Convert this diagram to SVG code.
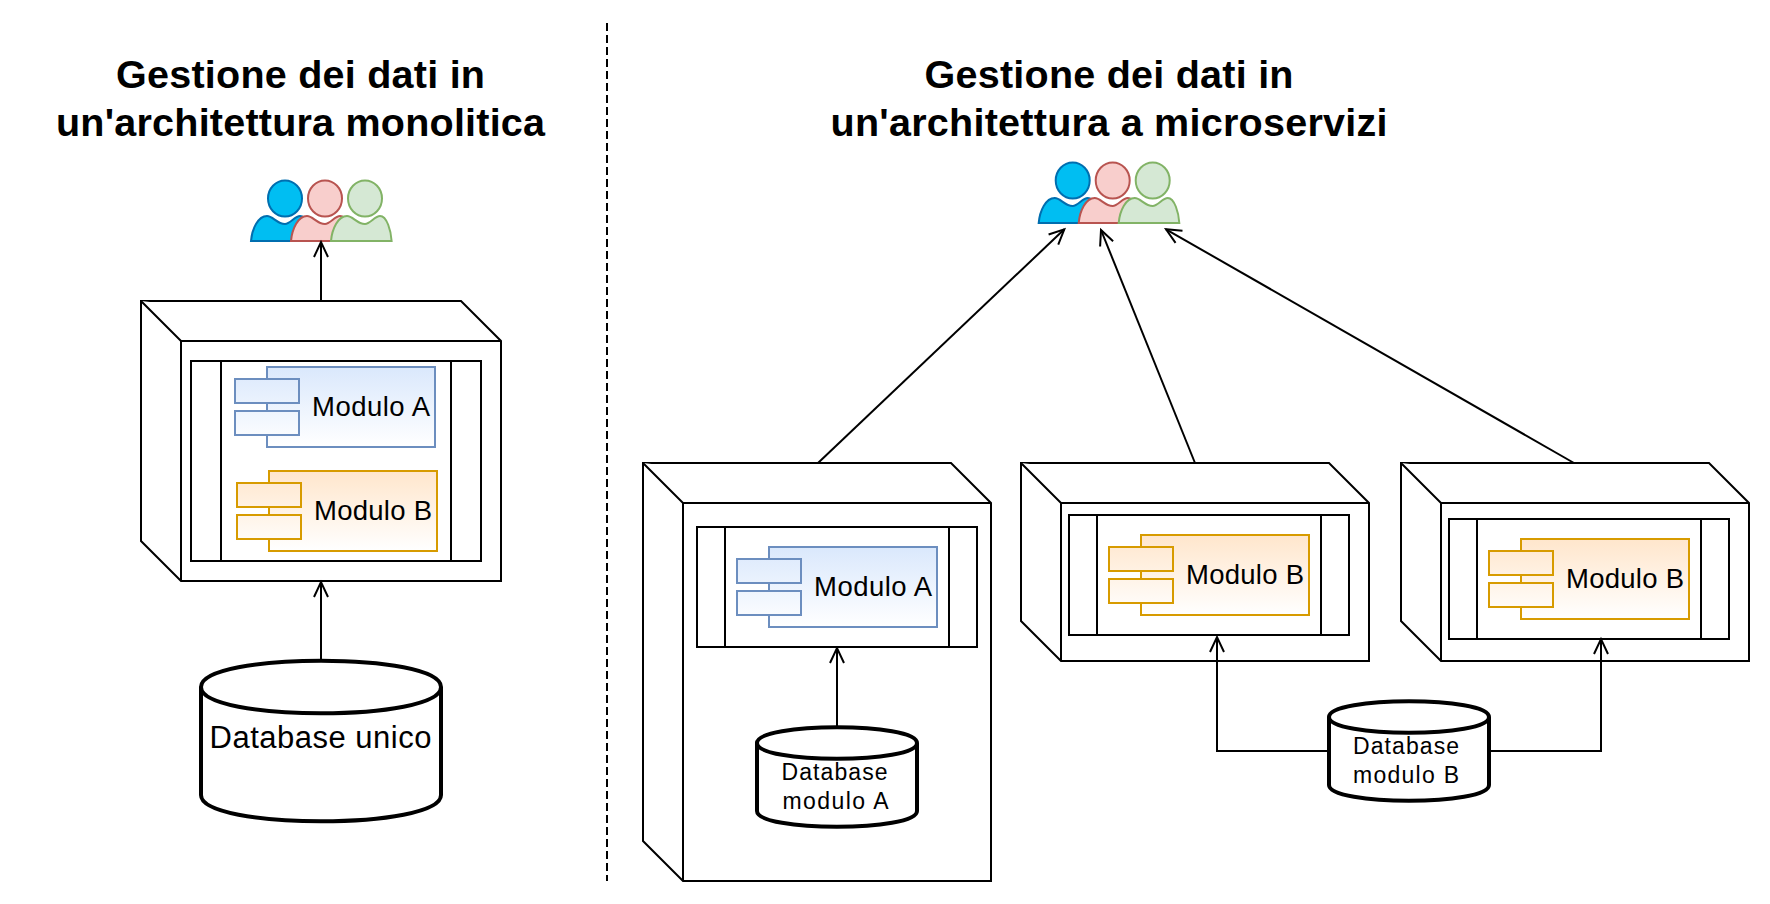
<svg xmlns="http://www.w3.org/2000/svg" width="1770" height="904" viewBox="0 0 1770 904">
<style>
text{font-family:"Liberation Sans",Arial,sans-serif;fill:#000}
.title{font-size:39.5px;font-weight:bold;text-anchor:middle}
.mod{font-size:27.5px}
.dbl{font-size:31px;text-anchor:middle}
.dbs{font-size:23px;text-anchor:middle}
.box{fill:#fff;stroke:#000;stroke-width:2;stroke-linejoin:miter}
.db{fill:#fff;stroke:#000;stroke-width:4}
.a{stroke:#6c8ebf;stroke-width:2;fill:url(#ga)}
.b{stroke:#d79b00;stroke-width:2;fill:url(#gb)}
.conn{fill:none;stroke:#000;stroke-width:2;marker-end:url(#open)}
.blue{fill:#00bef2;stroke:#006eaf;stroke-width:2}
.pink{fill:#f8cecc;stroke:#b85450;stroke-width:2}
.green{fill:#d5e8d4;stroke:#82b366;stroke-width:2}
</style>
<defs>
<linearGradient id="ga" gradientUnits="userSpaceOnUse" x1="0" y1="0" x2="0" y2="80"><stop offset="0" stop-color="#dae8fc"/><stop offset="1" stop-color="#fff"/></linearGradient>
<linearGradient id="gb" gradientUnits="userSpaceOnUse" x1="0" y1="0" x2="0" y2="80"><stop offset="0" stop-color="#ffe6cc"/><stop offset="1" stop-color="#fff"/></linearGradient>
<marker id="open" markerUnits="userSpaceOnUse" markerWidth="20" markerHeight="20" viewBox="-17 -10 20 20" refX="0" refY="0" orient="auto"><path d="M-15,-7 L0,0 L-15,7" fill="none" stroke="#000" stroke-width="2"/></marker>
<g id="body"><path d="M-34,42 C-33,30 -27,17 -18,17 C-12,17 -8,25 0,25 C5,25 10,17 15,17 C22,17 26,32 26.6,42 Z"/><ellipse cx="0" cy="-0.5" rx="17" ry="18"/></g>
<g id="compA"><rect class="a" x="32" y="0" width="168" height="80"/><rect class="a" x="0" y="12" width="64" height="24"/><rect class="a" x="0" y="44" width="64" height="24"/></g>
<g id="compB"><rect class="b" x="32" y="0" width="168" height="80"/><rect class="b" x="0" y="12" width="64" height="24"/><rect class="b" x="0" y="44" width="64" height="24"/></g>
</defs>
<rect width="1770" height="904" fill="#fff"/>

<g id="divider"><path d="M607,23 V881" fill="none" stroke="#000" stroke-width="2" stroke-dasharray="8 4"/></g>

<g id="title-mono">
<text class="title" x="300.5" y="87.5" textLength="369">Gestione dei dati in</text>
<text class="title" x="300.5" y="135.5" textLength="489">un'architettura monolitica</text>
</g>
<g id="title-micro">
<text class="title" x="1109" y="87.5" textLength="369">Gestione dei dati in</text>
<text class="title" x="1109" y="135.5" textLength="557">un'architettura a microservizi</text>
</g>

<g id="users-mono">
<use href="#body" class="blue" x="285" y="199"/>
<use href="#body" class="pink" x="325" y="199"/>
<use href="#body" class="green" x="365" y="199"/>
</g>
<g id="users-micro">
<use href="#body" class="blue" x="1072.7" y="181"/>
<use href="#body" class="pink" x="1112.7" y="181"/>
<use href="#body" class="green" x="1152.7" y="181"/>
</g>

<g id="node-mono">
<path class="box" d="M141,301 H461 L501,341 V581 H181 L141,541 Z"/>
<path class="box" d="M141,301 L181,341 H501 M181,341 V581"/>
<rect class="box" x="191" y="361" width="290" height="200"/>
<path class="box" d="M221,361 V561 M451,361 V561"/>
</g>
<g id="modulo-a-mono" transform="translate(235,367)"><use href="#compA"/><text class="mod" x="77" y="49" textLength="118">Modulo A</text></g>
<g id="modulo-b-mono" transform="translate(237,471)"><use href="#compB"/><text class="mod" x="77" y="49" textLength="118">Modulo B</text></g>

<g id="db-unico">
<path class="db" d="M201,687 C201,652 441,652 441,687 V795 C441,830 201,830 201,795 Z"/>
<path class="db" d="M201,687 C201,722 441,722 441,687"/>
<text class="dbl" x="320.5" y="748" textLength="222">Database unico</text>
</g>

<g id="node-a">
<path class="box" d="M643,463 H951 L991,503 V881 H683 L643,841 Z"/>
<path class="box" d="M643,463 L683,503 H991 M683,503 V881"/>
<rect class="box" x="697" y="527" width="280" height="120"/>
<path class="box" d="M725,527 V647 M949,527 V647"/>
</g>
<g id="modulo-a-micro" transform="translate(737,547)"><use href="#compA"/><text class="mod" x="77" y="49" textLength="118">Modulo A</text></g>

<g id="db-a">
<path class="db" d="M757,743 C757,722 917,722 917,743 V811 C917,832 757,832 757,811 Z"/>
<path class="db" d="M757,743 C757,764 917,764 917,743"/>
<text class="dbs" x="834.5" y="780" textLength="106">Database</text>
<text class="dbs" x="835.5" y="809" textLength="106">modulo A</text>
</g>

<g id="node-b1">
<path class="box" d="M1021,463 H1329 L1369,503 V661 H1061 L1021,621 Z"/>
<path class="box" d="M1021,463 L1061,503 H1369 M1061,503 V661"/>
<rect class="box" x="1069" y="515" width="280" height="120"/>
<path class="box" d="M1097,515 V635 M1321,515 V635"/>
</g>
<g id="modulo-b-micro1" transform="translate(1109,535)"><use href="#compB"/><text class="mod" x="77" y="49" textLength="118">Modulo B</text></g>

<g id="node-b2">
<path class="box" d="M1401,463 H1709 L1749,503 V661 H1441 L1401,621 Z"/>
<path class="box" d="M1401,463 L1441,503 H1749 M1441,503 V661"/>
<rect class="box" x="1449" y="519" width="280" height="120"/>
<path class="box" d="M1477,519 V639 M1701,519 V639"/>
</g>
<g id="modulo-b-micro2" transform="translate(1489,539)"><use href="#compB"/><text class="mod" x="77" y="49" textLength="118">Modulo B</text></g>

<g id="db-b">
<path class="db" d="M1329,717 C1329,696 1489,696 1489,717 V785 C1489,806 1329,806 1329,785 Z"/>
<path class="db" d="M1329,717 C1329,738 1489,738 1489,717"/>
<text class="dbs" x="1406" y="754" textLength="106">Database</text>
<text class="dbs" x="1406" y="783" textLength="106">modulo B</text>
</g>

<g id="connectors">
<path class="conn" d="M321,301 V242"/>
<path class="conn" d="M321,661 V582"/>
<path class="conn" d="M837,727 V648"/>
<path class="conn" d="M818,463 L1064.3,229.3"/>
<path class="conn" d="M1195,463 L1101,230"/>
<path class="conn" d="M1574,463 L1166,229.3"/>
<path class="conn" d="M1329,751 H1217 V637"/>
<path class="conn" d="M1489,751 H1601 V639"/>
</g>
</svg>
